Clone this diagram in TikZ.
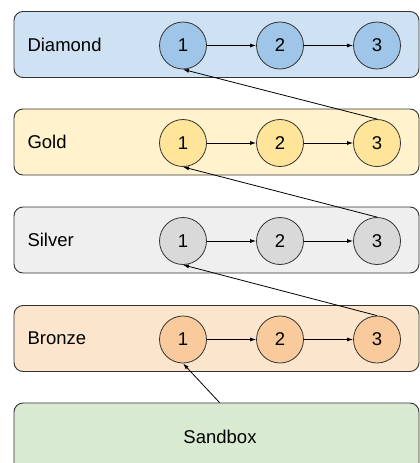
\documentclass[tikz,border=0pt]{standalone}
\usepackage{fontspec}
\setmainfont{Liberation Sans}
\usetikzlibrary{positioning,arrows.meta}

\definecolor{diaband}{HTML}{CFE2F3}
\definecolor{diacirc}{HTML}{9FC5E8}
\definecolor{goldband}{HTML}{FFF2CC}
\definecolor{goldcirc}{HTML}{FFE599}
\definecolor{silvband}{HTML}{EFEFEF}
\definecolor{silvcirc}{HTML}{D9D9D9}
\definecolor{bronband}{HTML}{FCE5CD}
\definecolor{broncirc}{HTML}{F9CB9C}
\definecolor{sandband}{HTML}{D9EAD3}
\definecolor{edge}{HTML}{333333}

\tikzset{
  band/.style={draw=edge, line width=0.9pt, rounded corners=9pt, minimum width=405pt, minimum height=66pt, inner sep=0pt},
  lvl/.style={circle, draw=edge, line width=0.8pt, minimum size=47pt, inner sep=0pt},
  link/.style={-{Latex[length=6pt,width=4pt]}, line width=0.8pt, draw=black}
}

\begin{document}
\begin{tikzpicture}[x=1pt, y=-1pt, font=\fontsize{18.5}{21}\selectfont]
  \useasboundingbox (0,0) rectangle (420,463);
  \clip (0,0) rectangle (420,463);
  % the four tiers
  \foreach \tier/\txt/\y/\fb/\fc in {dia/Diamond/44.5/diaband/diacirc, gold/Gold/142/goldband/goldcirc,
      silv/Silver/240/silvband/silvcirc, bron/Bronze/338.5/bronband/broncirc} {
    \node[band, fill=\fb] (\tier) at (216.5,\y) {};
    \node[anchor=west] (\tier-lbl) at (24,\y) {\txt};
    \node[lvl, fill=\fc] (\tier1) at (183,\y+1) {1};
    \node[lvl, fill=\fc] (\tier2) at (280,\y+1) {2};
    \node[lvl, fill=\fc] (\tier3) at (377,\y+1) {3};
    \draw[link] (\tier1) -- (\tier2);
    \draw[link] (\tier2) -- (\tier3);
  }
  % sandbox at the bottom
  \node[band, fill=sandband, minimum height=90pt] (sand) at (216.5,448) {};
  \node (sand-lbl) at (220,437) {Sandbox};
  % promotions
  \draw[link] (gold3.north) -- (dia1.south);
  \draw[link] (silv3.north) -- (gold1.south);
  \draw[link] (bron3.north) -- (silv1.south);
  \coordinate (sandtop) at ([xshift=3pt]sand.north);
  \draw[link] (sandtop) -- (bron1.south);
\end{tikzpicture}
\end{document}
